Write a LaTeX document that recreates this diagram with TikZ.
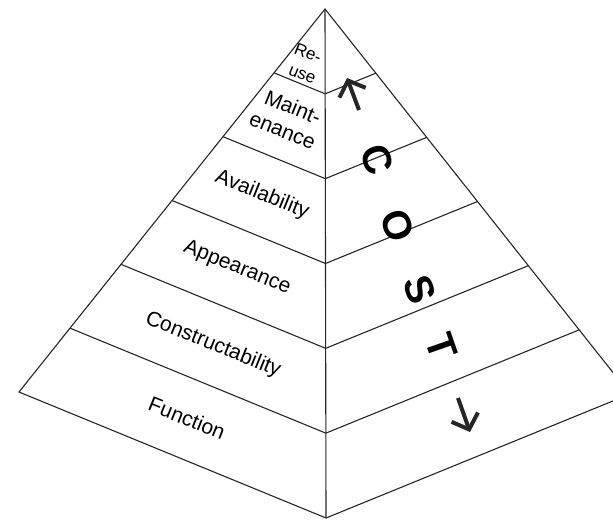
\documentclass[tikz,border=0pt]{standalone}
\usepackage{fontspec}
\setmainfont{Liberation Sans}
\usetikzlibrary{calc,arrows.meta}
\tikzset{
  layer/.style={font=\fontsize{21}{22}\selectfont, rotate=-22, inner sep=0pt},
  small layer/.style={layer, font=\fontsize{17}{18}\selectfont},
  costletter/.style={font=\fontsize{40}{42}\selectfont\bfseries, rotate=-70.8, inner sep=0pt},
  costarrow/.style={line width=4pt, -{Straight Barb[length=13pt,width=28pt]}},
}
\begin{document}
\begin{tikzpicture}[x=1pt,y=-1pt,line width=1.1pt,draw=black!85]
\useasboundingbox (0,0) rectangle (613,520);
\clip (0,0) rectangle (613,520);
\coordinate (apex) at (325,9);
\coordinate (lc) at (19,392);
\coordinate (fc) at (326,518);
\coordinate (rc) at (630,394);
% outline of the pyramid
\draw (apex) -- (lc) -- (fc) -- (rc) -- cycle;
\draw (apex) -- (fc);
% layer boundaries
\foreach \i in {1,...,5}
  \draw ($(apex)!\i/6!(lc)$) -- ($(apex)!\i/6!(fc)$) -- ($(apex)!\i/6!(rc)$);
% layer names
\node[small layer] (reuse) at (308,53) {Re-};
\node[small layer] (reuseb) at (302,75) {use};
\node[layer] (maint) at (293,107) {Maint-};
\node[layer] (maintb) at (282,132) {enance};
\node[layer] (avail) at (262,195) {Availability};
\node[layer] (appear) at (237,268) {Appearance};
\node[layer] (constr) at (213,345) {Constructability};
\node[layer] (func) at (187,418) {Function};
% cost
\node[costletter] (c) at (377,160) {C};
\node[costletter] (o) at (398,226) {O};
\node[costletter] (s) at (420,290) {S};
\node[costletter] (t) at (442,347) {T};
\coordinate (uptail) at (359,110);
\coordinate (uptip) at (347,78);
\coordinate (dntail) at (458,398);
\coordinate (dntip) at (470,432);
\draw[costarrow] (uptail) -- (uptip);
\draw[costarrow] (dntail) -- (dntip);
\end{tikzpicture}
\end{document}
